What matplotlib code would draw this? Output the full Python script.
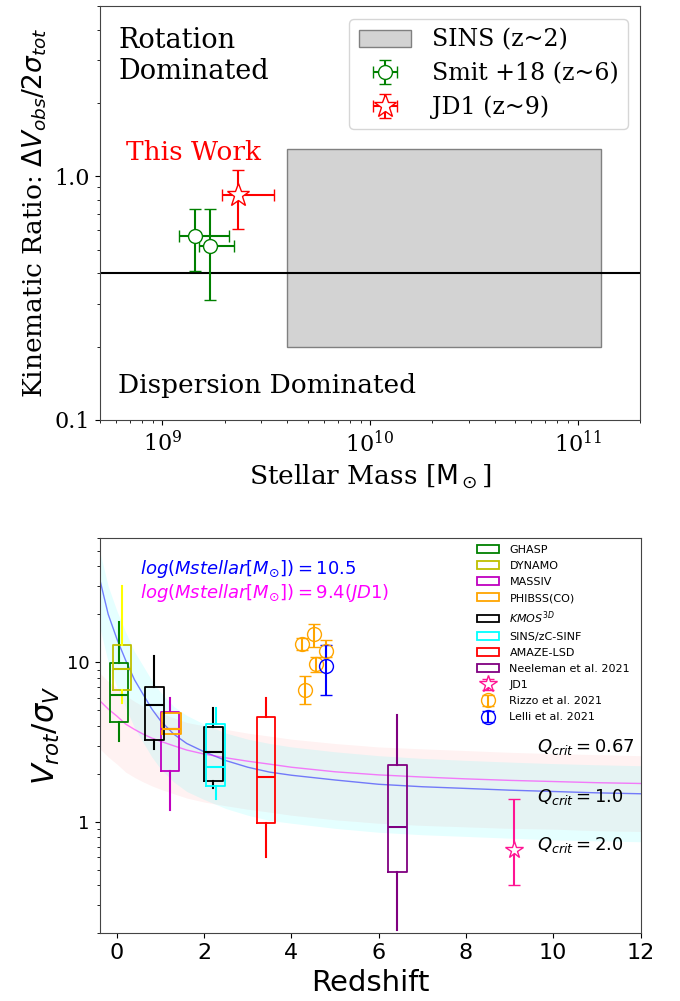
import matplotlib
matplotlib.use("Agg")
import matplotlib.pyplot as plt
from matplotlib.patches import Patch, Rectangle
from matplotlib.ticker import NullFormatter

# ---- top panel data (stellar mass vs kinematic ratio) ----
sins_mass = (4.0e9, 1.3e11)
sins_ratio = (0.2, 1.3)
ratio_line = 0.4

smit_mass = [1.43e9, 1.70e9]
smit_mass_lo = [1.2e9, 1.5e9]
smit_mass_hi = [2.1e9, 2.2e9]
smit_ratio = [0.571, 0.52]
smit_ratio_lo = [0.408, 0.312]
smit_ratio_hi = [0.735, 0.735]

jd1_mass = [2.30e9]
jd1_mass_lo = [1.93e9]
jd1_mass_hi = [3.43e9]
jd1_ratio = [0.84]
jd1_ratio_lo = [0.61]
jd1_ratio_hi = [1.065]

# ---- bottom panel data (redshift vs V/sigma) ----
box_survey = ['GHASP', 'DYNAMO', 'MASSIV', 'PHIBSS(CO)', 'KMOS3D', 'KMOS3D',
              'SINS/zC-SINF', 'AMAZE-LSD', 'Neeleman']
box_z = [0.05, 0.11, 1.21, 1.25, 0.86, 2.21, 2.26, 3.42, 6.43]
box_lo = [3.2, 5.6, 1.18, 3.53, 2.88, 1.62, 1.40, 0.60, 0.21]
box_q1 = [4.2, 6.75, 2.08, 3.53, 3.24, 1.80, 1.68, 0.99, 0.487]
box_med = [6.2, 9.1, 3.8, 3.8, 5.4, 2.74, 2.21, 1.91, 0.93]
box_q3 = [9.9, 12.9, 4.9, 4.8, 7.05, 3.92, 4.12, 4.53, 2.28]
box_hi = [18.0, 30.0, 6.0, 4.8, 11.0, 5.2, 5.2, 6.0, 4.71]

survey_labels = {'GHASP': 'GHASP', 'DYNAMO': 'DYNAMO', 'MASSIV': 'MASSIV',
                 'PHIBSS(CO)': 'PHIBSS(CO)', 'KMOS3D': '$KMOS^{3D}$',
                 'SINS/zC-SINF': 'SINS/zC-SINF', 'AMAZE-LSD': 'AMAZE-LSD',
                 'Neeleman': 'Neeleman et al. 2021'}
survey_colors = {'GHASP': 'green', 'DYNAMO': 'y', 'MASSIV': 'm',
                 'PHIBSS(CO)': 'orange', 'KMOS3D': 'black', 'SINS/zC-SINF': 'cyan',
                 'AMAZE-LSD': 'red', 'Neeleman': 'purple'}

rizzo_z = [4.24, 4.51, 4.80, 4.56, 4.32]
rizzo_v = [13.1, 15.0, 11.8, 9.8, 6.75]
rizzo_lo = [12.0, 12.4, 10.8, 8.65, 5.5]
rizzo_hi = [14.3, 17.4, 13.9, 10.8, 8.2]

lelli_z = [4.80]
lelli_v = [9.5]
lelli_lo = [6.2]
lelli_hi = [12.8]

jd1_z = [9.10]
jd1_v = [0.665]
jd1_lo = [0.40]
jd1_hi = [1.39]

# model curves
curve_z = [-0.38, -0.2, 0.0, 0.2, 0.4, 0.6, 0.8, 1.0, 1.3, 1.6, 2.0, 2.5, 3.0,
           3.5, 4.0, 5.0, 6.0, 7.0, 8.0, 9.0, 10.0, 11.0, 12.0]
blue_v = [32, 20, 14, 10.3, 7.8, 6.3, 5.1, 4.3, 3.55, 3.1, 2.75, 2.42, 2.2,
          2.05, 1.96, 1.83, 1.72, 1.66, 1.62, 1.58, 1.55, 1.52, 1.50]
cyan_hi = [48, 30, 21, 15.5, 11.7, 9.5, 7.7, 6.5, 5.3, 4.65, 4.1, 3.6, 3.3,
           3.1, 2.95, 2.75, 2.6, 2.5, 2.43, 2.37, 2.32, 2.28, 2.25]
cyan_lo = [16, 10, 7, 5.2, 3.9, 3.15, 2.55, 2.15, 1.78, 1.55, 1.38, 1.21, 1.10,
           1.02, 0.98, 0.91, 0.86, 0.83, 0.81, 0.79, 0.77, 0.76, 0.75]
pink_v = [5.7, 5.1, 4.6, 4.1, 3.8, 3.55, 3.35, 3.2, 3.0, 2.82, 2.66, 2.52, 2.40,
          2.30, 2.20, 2.06, 1.97, 1.91, 1.86, 1.82, 1.79, 1.76, 1.74]
pink_hi = [8.5, 7.6, 6.9, 6.2, 5.7, 5.3, 5.0, 4.8, 4.5, 4.2, 4.0, 3.8, 3.6,
           3.45, 3.3, 3.1, 2.95, 2.87, 2.8, 2.73, 2.68, 2.64, 2.6]
pink_lo = [2.85, 2.55, 2.3, 2.05, 1.9, 1.78, 1.68, 1.6, 1.5, 1.41, 1.33, 1.26, 1.2,
           1.15, 1.1, 1.03, 0.98, 0.95, 0.93, 0.91, 0.9, 0.88, 0.87]

serif = 'DejaVu Serif'

fig = plt.figure(figsize=(6.8, 10.01), dpi=100)
ax1 = fig.add_axes([100 / 680, 1 - 420 / 1001, 540 / 680, 414 / 1001])
ax2 = fig.add_axes([99.5 / 680, 1 - 933.3 / 1001, 541 / 680, 395 / 1001])

for ax in (ax1, ax2):
    for sp in ax.spines.values():
        sp.set_color('#444444')

# ---------------- top panel ----------------
ax1.set_xscale('log')
ax1.set_yscale('log')
ax1.set_xlim(5e8, 2e11)
ax1.set_ylim(0.1, 5)

rect = Rectangle((sins_mass[0], sins_ratio[0]), sins_mass[1] - sins_mass[0],
                 sins_ratio[1] - sins_ratio[0], facecolor='lightgray',
                 edgecolor='gray', lw=1, zorder=1)
ax1.add_patch(rect)
ax1.axhline(ratio_line, color='black', lw=1.5, zorder=2)

smit = ax1.errorbar(smit_mass, smit_ratio,
                    xerr=[[m - l for m, l in zip(smit_mass, smit_mass_lo)],
                          [h - m for m, h in zip(smit_mass, smit_mass_hi)]],
                    yerr=[[r - l for r, l in zip(smit_ratio, smit_ratio_lo)],
                          [h - r for r, h in zip(smit_ratio, smit_ratio_hi)]],
                    fmt='o', color='green', mfc='white', mec='green', ms=10,
                    capsize=4, lw=1.5, zorder=3)
jd1 = ax1.errorbar(jd1_mass, jd1_ratio,
                   xerr=[[jd1_mass[0] - jd1_mass_lo[0]], [jd1_mass_hi[0] - jd1_mass[0]]],
                   yerr=[[jd1_ratio[0] - jd1_ratio_lo[0]], [jd1_ratio_hi[0] - jd1_ratio[0]]],
                   fmt='*', color='red', mfc='white', mec='red', ms=17,
                   capsize=4, lw=1.5, zorder=3)

ax1.text(0.034, 0.95, 'Rotation\nDominated', transform=ax1.transAxes,
         fontsize=19.5, family=serif, va='top', ha='left')
ax1.text(0.048, 0.628, 'This Work', transform=ax1.transAxes, color='red',
         fontsize=19, family=serif, va='baseline', ha='left')
ax1.text(0.034, 0.066, 'Dispersion Dominated', transform=ax1.transAxes,
         fontsize=19, family=serif, va='baseline', ha='left')

sins_patch = Patch(facecolor='lightgray', edgecolor='gray', label='SINS (z~2)')
leg1 = ax1.legend([sins_patch, smit, jd1], ['SINS (z~2)', 'Smit +18 (z~6)', 'JD1 (z~9)'],
                  loc='upper right', bbox_to_anchor=(0.978, 0.968), borderaxespad=0,
                  prop={'family': serif, 'size': 17}, handlelength=2.2,
                  labelspacing=0.45, handletextpad=0.9)

ax1.set_yticks([0.1, 1.0], labels=['0.1', '1.0'], fontsize=16, family=serif)
ax1.set_xticks([1e9, 1e10, 1e11], labels=[r'$10^{9}$', r'$10^{10}$', r'$10^{11}$'],
               fontsize=16, math_fontfamily='dejavuserif')
ax1.xaxis.set_minor_formatter(NullFormatter())
ax1.yaxis.set_minor_formatter(NullFormatter())
ax1.set_xlabel(r'Stellar Mass [$\mathrm{M}_\odot$]', fontsize=19, family=serif)
ax1.set_ylabel(r'Kinematic Ratio: $\Delta V_{obs}/2\sigma_{tot}$', fontsize=19,
               family=serif)

# ---------------- bottom panel ----------------
ax2.set_yscale('log')
ax2.set_xlim(-0.4, 12)
ax2.set_ylim(0.2, 60)

ax2.fill_between(curve_z, pink_lo, pink_hi, color='red', alpha=0.05, lw=0, zorder=1)
ax2.fill_between(curve_z, cyan_lo, cyan_hi, color='cyan', alpha=0.1, lw=0, zorder=1)
ax2.plot(curve_z, blue_v, color='blue', alpha=0.5, lw=1, zorder=2)
ax2.plot(curve_z, pink_v, color='magenta', alpha=0.5, lw=1, zorder=2)

for i in range(len(box_z)):
    s = box_survey[i]
    c = survey_colors[s]
    wc = 'yellow' if s == 'DYNAMO' else c
    stats = [{'med': box_med[i], 'q1': box_q1[i], 'q3': box_q3[i],
              'whislo': box_lo[i], 'whishi': box_hi[i], 'fliers': []}]
    ax2.bxp(stats, positions=[box_z[i]], widths=0.42, showcaps=False,
            showfliers=False, manage_ticks=False,
            boxprops={'color': c, 'lw': 1.3},
            medianprops={'color': c, 'lw': 1.5},
            whiskerprops={'color': wc, 'lw': 1.5}, zorder=3)

rizzo = ax2.errorbar(rizzo_z, rizzo_v,
                     yerr=[[v - l for v, l in zip(rizzo_v, rizzo_lo)],
                           [h - v for v, h in zip(rizzo_v, rizzo_hi)]],
                     fmt='o', color='orange', mfc='none', mec='orange', ms=10,
                     capsize=4, lw=1.5, zorder=4)
lelli = ax2.errorbar(lelli_z, lelli_v,
                     yerr=[[lelli_v[0] - lelli_lo[0]], [lelli_hi[0] - lelli_v[0]]],
                     fmt='o', color='blue', mfc='none', mec='blue', ms=10,
                     capsize=4, lw=1.5, zorder=4)
jd1b = ax2.errorbar(jd1_z, jd1_v,
                    yerr=[[jd1_v[0] - jd1_lo[0]], [jd1_hi[0] - jd1_v[0]]],
                    fmt='*', color='deeppink', mfc='white', mec='deeppink', ms=13,
                    capsize=4, lw=1.5, zorder=4)

ax2.text(0.53, 38.3, r'$log(Mstellar[M_{\odot}]) = 10.5$', color='blue',
         fontsize=13, va='center', ha='left')
ax2.text(0.53, 27.4, r'$log(Mstellar[M_{\odot}]) = 9.4(JD1)$', color='magenta',
         fontsize=13, va='center', ha='left')
ax2.text(9.62, 2.94, r'$Q_{crit} = 0.67$', fontsize=13, va='center', ha='left')
ax2.text(9.62, 1.43, r'$Q_{crit} = 1.0$', fontsize=13, va='center', ha='left')
ax2.text(9.62, 0.715, r'$Q_{crit} = 2.0$', fontsize=13, va='center', ha='left')

handles = []
labels = []
for s in ['GHASP', 'DYNAMO', 'MASSIV', 'PHIBSS(CO)', 'KMOS3D', 'SINS/zC-SINF',
          'AMAZE-LSD', 'Neeleman']:
    handles.append(Patch(facecolor='none', edgecolor=survey_colors[s], lw=1.3))
    labels.append(survey_labels[s])
handles += [jd1b, rizzo, lelli]
labels += ['JD1', 'Rizzo et al. 2021', 'Lelli et al. 2021']
ax2.legend(handles, labels, loc='upper left', bbox_to_anchor=(0.69, 0.995),
           borderaxespad=0, frameon=False, fontsize=8, labelspacing=0.55,
           handlelength=2.0, handletextpad=0.9)

ax2.set_yticks([1, 10], labels=['1', '10'], fontsize=13)
ax2.yaxis.set_minor_formatter(NullFormatter())
ax2.set_xticks([0, 2, 4, 6, 8, 10, 12])
ax2.tick_params(axis='x', labelsize=16)
ax2.set_xlabel('Redshift', fontsize=21)
ax2.set_ylabel(r'$V_{rot}/\sigma_V$', fontsize=22)

fig.savefig('out.png', dpi=100)
